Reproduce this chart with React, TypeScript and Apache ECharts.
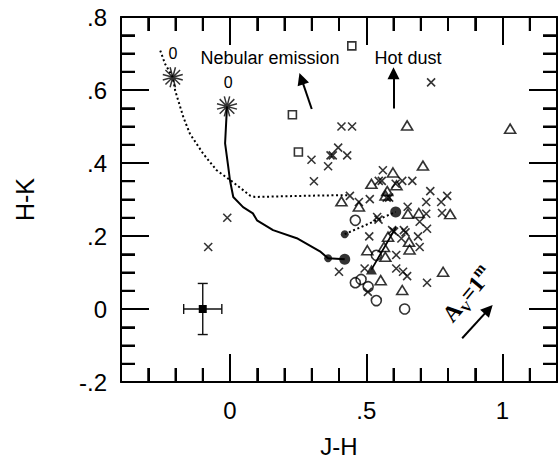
import React, { useEffect, useRef } from 'react';
import * as echarts from 'echarts';

const xMajorTicks = [0, 0.5, 1];
const xMinorStep = 0.1;
const yMajorTicks = [-0.2, 0, 0.2, 0.4, 0.6, 0.8];
const yMinorStep = 0.05;
const xRange = [-0.4, 1.2];
const yRange = [-0.2, 0.8];

const crosses: [number, number][] = [
  [-0.08, 0.17], [-0.01, 0.25], [0.299, 0.409], [0.308, 0.35], [0.36, 0.391], [0.369, 0.421],
  [0.377, 0.421], [0.397, 0.442], [0.43, 0.421], [0.409, 0.5], [0.448, 0.5], [0.738, 0.621],
  [0.44, 0.31], [0.473, 0.293], [0.513, 0.301], [0.561, 0.38], [0.546, 0.351], [0.557, 0.351],
  [0.608, 0.343], [0.632, 0.351], [0.669, 0.351], [0.575, 0.305], [0.584, 0.305], [0.735, 0.323],
  [0.797, 0.31], [0.72, 0.293], [0.775, 0.293], [0.72, 0.261], [0.778, 0.263], [0.652, 0.28],
  [0.54, 0.252], [0.545, 0.245], [0.696, 0.239], [0.723, 0.22], [0.595, 0.216], [0.602, 0.212],
  [0.638, 0.216], [0.644, 0.21], [0.511, 0.199], [0.69, 0.199], [0.629, 0.193], [0.696, 0.17],
  [0.61, 0.148], [0.494, 0.111], [0.4, 0.102], [0.61, 0.111], [0.635, 0.102], [0.65, 0.09],
  [0.723, 0.072], [0.506, 0.047],
];

const triangles: [number, number][] = [
  [0.65, 0.503], [1.028, 0.494], [0.708, 0.393], [0.598, 0.374], [0.519, 0.343], [0.611, 0.339],
  [0.577, 0.323], [0.571, 0.311], [0.409, 0.295], [0.473, 0.281], [0.653, 0.261], [0.693, 0.263],
  [0.808, 0.26], [0.58, 0.198], [0.657, 0.184], [0.659, 0.163], [0.504, 0.161], [0.565, 0.17],
  [0.57, 0.143], [0.553, 0.079], [0.632, 0.052], [0.782, 0.102],
];

const openCircles: [number, number][] = [
  [0.46, 0.243], [0.537, 0.147], [0.46, 0.072], [0.481, 0.081], [0.507, 0.061], [0.537, 0.023], [0.641, 0.0],
];

const squares: [number, number][] = [[0.229, 0.532], [0.251, 0.43], [0.447, 0.721]];

const smallDots: [number, number][] = [[0.36, 0.139], [0.421, 0.205]];
const bigDots: [number, number][] = [[0.421, 0.136], [0.608, 0.266]];
const filledTriangle: [number, number][] = [[0.519, 0.108]];
const stars: [number, number][] = [[-0.21, 0.635], [-0.011, 0.555]];

const dottedTrack: [number, number][] = [
  [-0.256, 0.708], [-0.238, 0.671], [-0.21, 0.635], [-0.201, 0.598], [-0.171, 0.525], [-0.147, 0.48],
  [-0.098, 0.425], [-0.049, 0.38], [0.012, 0.347], [0.073, 0.311], [0.092, 0.307], [0.33, 0.311], [0.44, 0.312],
];
const solidTrack: [number, number][] = [
  [-0.011, 0.555], [-0.018, 0.454], [-0.007, 0.393], [0, 0.352], [0.012, 0.307], [0.048, 0.279],
  [0.084, 0.262], [0.099, 0.243], [0.158, 0.216], [0.245, 0.194], [0.33, 0.158], [0.36, 0.139], [0.421, 0.136],
];
const dottedLink: [number, number][] = [[0.421, 0.205], [0.608, 0.266]];
const reddeningLine: [number, number][] = [[0.519, 0.108], [0.61, 0.225]];

const errorBar = [[-0.1, 0, 0.07, 0.07]];

const arrows: [number, number][][] = [
  [[0.3, 0.548], [0.262, 0.631]],
  [[0.6, 0.549], [0.6, 0.646]],
  [[0.852, -0.08], [0.949, -0.001]],
];

const zeroLabels: [number, number][] = [[-0.209, 0.699], [-0.007, 0.62]];
const nebularLabel: [number, number] = [0.147, 0.688];
const hotDustLabel: [number, number] = [0.653, 0.688];
const avLabel: [number, number] = [0.872, 0.04];

const SANS = 'Liberation Sans, Arial, sans-serif';
const SERIF = 'Liberation Serif, DejaVu Serif, serif';

const starPath = (() => {
  let d = '';
  for (let i = 0; i < 6; i++) {
    const a = (i * Math.PI) / 6 + Math.PI / 12;
    const dx = 10 * Math.cos(a), dy = 10 * Math.sin(a);
    d += `M${(10 + dx).toFixed(2)},${(10 + dy).toFixed(2)}L${(10 - dx).toFixed(2)},${(10 - dy).toFixed(2)}`;
  }
  return 'path://' + d;
})();
const crossPath = 'path://M0,0L10,10M10,0L0,10';

const steps = (lo: number, hi: number, step: number) => {
  const out: number[] = [];
  const n = Math.round((hi - lo) / step);
  for (let i = 0; i <= n; i++) out.push(Math.round((lo + i * step) * 1000) / 1000);
  return out;
};

const fmtTick = (v: number) => {
  if (Math.abs(v) < 1e-9) return '0';
  const r = Math.round(v * 100) / 100;
  return String(r).replace('0.', '.');
};

export default function App() {
  const ref = useRef<HTMLDivElement>(null);
  useEffect(() => {
    if (!ref.current) return;
    const chart = echarts.init(ref.current, undefined, { renderer: 'svg' });
    const black = '#000';
    const lineStyle = { color: black, width: 2 };
    const tickStyle = { color: black, width: 2 };
    const isMajorX = (v: number) => xMajorTicks.some((t) => Math.abs(t - v) < 1e-6);
    const isMajorY = (v: number) => yMajorTicks.some((t) => Math.abs(t - v) < 1e-6);
    const xMinor = steps(xRange[0], xRange[1], xMinorStep).filter((v) => !isMajorX(v));
    const yMinor = steps(yRange[0], yRange[1], yMinorStep).filter((v) => !isMajorY(v));
    const baseX = { type: 'value', min: xRange[0], max: xRange[1], splitLine: { show: false } };
    const baseY = { type: 'value', min: yRange[0], max: yRange[1], splitLine: { show: false } };
    const labelStyle = { color: black, fontSize: 24, fontFamily: SANS };
    const strokeItem = { color: 'rgba(0,0,0,0)', borderColor: black, borderWidth: 1.6 };
    const off = { show: false };
    const minorAxis = (base: any, position: string, values: number[]) => ({
      ...base, position,
      axisLine: { show: false, onZero: false },
      axisTick: { show: true, inside: true, length: 14, customValues: values, lineStyle: tickStyle },
      axisLabel: off,
    });

    const option: any = {
      animation: false,
      grid: { left: 121, right: 2, top: 17, bottom: 81, containLabel: false, outerBoundsMode: 'none' },
      xAxis: [
        {
          ...baseX, position: 'bottom',
          axisLine: { show: true, onZero: false, lineStyle },
          axisTick: { show: true, inside: true, length: 28, customValues: xMajorTicks, lineStyle: tickStyle },
          axisLabel: { ...labelStyle, margin: 16, customValues: xMajorTicks, formatter: fmtTick },
          name: 'J-H', nameLocation: 'middle', nameGap: 52,
          nameTextStyle: { color: black, fontSize: 24, fontFamily: SANS },
        },
        {
          ...baseX, position: 'top',
          axisLine: { show: true, onZero: false, lineStyle },
          axisTick: { show: true, inside: true, length: 28, customValues: xMajorTicks, lineStyle: tickStyle },
          axisLabel: off,
        },
        minorAxis(baseX, 'bottom', xMinor),
        minorAxis(baseX, 'top', xMinor),
      ],
      yAxis: [
        {
          ...baseY, position: 'left',
          axisLine: { show: true, onZero: false, lineStyle },
          axisTick: { show: true, inside: true, length: 28, customValues: yMajorTicks, lineStyle: tickStyle },
          axisLabel: { ...labelStyle, margin: 14, customValues: yMajorTicks, formatter: fmtTick },
          name: 'H-K', nameLocation: 'middle', nameGap: 84, nameRotate: 90,
          nameTextStyle: { color: black, fontSize: 25, fontFamily: SANS },
        },
        {
          ...baseY, position: 'right',
          axisLine: { show: true, onZero: false, lineStyle },
          axisTick: { show: true, inside: true, length: 28, customValues: yMajorTicks, lineStyle: tickStyle },
          axisLabel: off,
        },
        minorAxis(baseY, 'left', yMinor),
        minorAxis(baseY, 'right', yMinor),
      ],
      series: [
        {
          type: 'line', data: dottedTrack, showSymbol: false, symbol: 'none', silent: true,
          lineStyle: { color: black, width: 2, type: [2, 2.6] },
        },
        {
          type: 'line', data: solidTrack, showSymbol: false, symbol: 'none', silent: true,
          lineStyle: { color: black, width: 2 },
        },
        {
          type: 'line', data: dottedLink, showSymbol: false, symbol: 'none', silent: true,
          lineStyle: { color: black, width: 2, type: [2, 2.6] },
        },
        {
          type: 'line', data: reddeningLine, showSymbol: false, symbol: 'none', silent: true,
          lineStyle: { color: black, width: 1.8 },
        },
        {
          type: 'lines', coordinateSystem: 'cartesian2d', silent: true,
          symbol: ['none', 'triangle'], symbolSize: 12,
          lineStyle: { color: black, width: 2, opacity: 1, curveness: 0 },
          data: arrows.map((c) => ({ coords: c })),
        },
        {
          type: 'custom', silent: true, data: errorBar,
          renderItem: (_p: any, api: any) => {
            const x = api.value(0), y = api.value(1), ex = api.value(2), ey = api.value(3);
            const c = api.coord([x, y]);
            const l = api.coord([x - ex, y]);
            const r = api.coord([x + ex, y]);
            const t = api.coord([x, y + ey]);
            const b = api.coord([x, y - ey]);
            const st = { stroke: '#111', lineWidth: 1.4 };
            const cap = 5;
            const ln = (x1: number, y1: number, x2: number, y2: number) => ({ type: 'line', shape: { x1, y1, x2, y2 }, style: st });
            return {
              type: 'group',
              children: [
                ln(l[0], l[1], r[0], r[1]),
                ln(t[0], t[1], b[0], b[1]),
                ln(l[0], l[1] - cap, l[0], l[1] + cap),
                ln(r[0], r[1] - cap, r[0], r[1] + cap),
                ln(t[0] - cap, t[1], t[0] + cap, t[1]),
                ln(b[0] - cap, b[1], b[0] + cap, b[1]),
                { type: 'rect', shape: { x: c[0] - 4, y: c[1] - 4, width: 8, height: 8 }, style: { fill: black } },
              ],
            };
          },
        },
        { type: 'scatter', data: crosses, symbol: crossPath, symbolSize: 8, itemStyle: strokeItem, silent: true },
        { type: 'scatter', data: triangles, symbol: 'triangle', symbolSize: [11, 9], itemStyle: strokeItem, silent: true },
        { type: 'scatter', data: openCircles, symbol: 'circle', symbolSize: 10, itemStyle: strokeItem, silent: true },
        { type: 'scatter', data: squares, symbol: 'rect', symbolSize: 8, itemStyle: strokeItem, silent: true },
        { type: 'scatter', data: smallDots, symbol: 'circle', symbolSize: 8, itemStyle: { color: black }, silent: true },
        { type: 'scatter', data: bigDots, symbol: 'circle', symbolSize: 11, itemStyle: { color: black }, silent: true },
        { type: 'scatter', data: filledTriangle, symbol: 'triangle', symbolSize: [11, 10], itemStyle: { color: black }, silent: true },
        { type: 'scatter', data: stars, symbol: starPath, symbolSize: 20, itemStyle: { color: 'rgba(0,0,0,0)', borderColor: black, borderWidth: 1.5 }, silent: true },
      ],
    };
    chart.setOption(option);

    const px = (p: [number, number]) => chart.convertToPixel({ xAxisIndex: 0, yAxisIndex: 0 }, p) as number[];
    const bar = (x: number, y: number, w: number, h: number) => ({
      type: 'rect', silent: true, z: 100,
      shape: { x, y, width: w, height: h },
      style: { fill: black },
    });
    const minorTicks: any[] = [];
    yMinor.forEach((v) => {
      const a = px([xRange[0], v]);
      const b = px([xRange[1], v]);
      minorTicks.push(bar(a[0], a[1] - 1, 14, 2));
      minorTicks.push(bar(b[0] - 14, b[1] - 1, 14, 2));
    });
    xMinor.forEach((v) => {
      const a = px([v, yRange[0]]);
      const b = px([v, yRange[1]]);
      minorTicks.push(bar(a[0] - 1, a[1] - 14, 2, 14));
      minorTicks.push(bar(b[0] - 1, b[1], 2, 14));
    });
    const txt = (p: [number, number], text: string, size: number) => {
      const [x, y] = px(p);
      return {
        type: 'text', x, y, silent: true,
        style: { text, fill: black, font: `${size}px ${SANS}`, align: 'center', verticalAlign: 'middle' },
      };
    };
    const [ax, ay] = px(avLabel);
    chart.setOption({
      graphic: [
        ...minorTicks,
        ...zeroLabels.map((p) => txt(p, '0', 16)),
        txt(nebularLabel, 'Nebular emission', 18),
        txt(hotDustLabel, 'Hot dust', 18),
        {
          type: 'text', x: ax, y: ay, rotation: (50 * Math.PI) / 180, silent: true,
          style: {
            text: '{a|A}{s|V}{a|=1}{p|m}', fill: black, align: 'center', verticalAlign: 'middle',
            rich: {
              a: { fill: black, fontFamily: SERIF, fontWeight: 'bold', fontSize: 23, lineHeight: 30 },
              s: { fill: black, fontFamily: SERIF, fontWeight: 'bold', fontSize: 14, lineHeight: 30, verticalAlign: 'bottom' },
              p: { fill: black, fontFamily: SERIF, fontWeight: 'bold', fontSize: 15, lineHeight: 30, verticalAlign: 'top' },
            },
          },
        },
      ],
    });
    return () => chart.dispose();
  }, []);
  return <div ref={ref} style={{ position: 'absolute', left: 0, top: 0, width: 559, height: 463 }} />;
}
